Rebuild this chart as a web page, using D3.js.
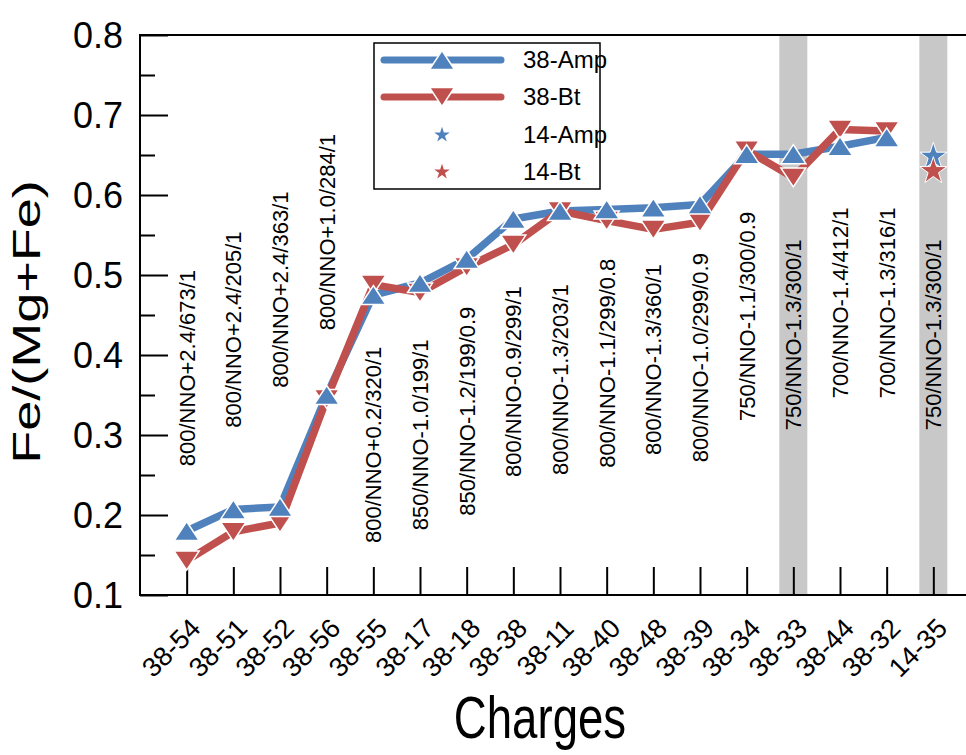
<!DOCTYPE html>
<html><head><meta charset="utf-8">
<script src="https://cdn.jsdelivr.net/npm/d3@7/dist/d3.min.js"></script>
<style>
html,body{margin:0;padding:0;background:#fff;}
svg{display:block;font-family:"Liberation Sans",Arial,Helvetica,sans-serif;}
</style></head>
<body>
<svg id="chart" width="966" height="755"></svg>
<script>
// ---------- data ----------
const categories = ["38-54","38-51","38-52","38-56","38-55","38-17","38-18","38-38","38-11","38-40","38-48","38-39","38-34","38-33","38-44","38-32","14-35"];
const conditions = ["800/NNO+2.4/673/1","800/NNO+2.4/205/1","800/NNO+2.4/363/1","800/NNO+1.0/284/1","800/NNO+0.2/320/1","850/NNO-1.0/199/1","850/NNO-1.2/199/0.9","800/NNO-0.9/299/1","800/NNO-1.3/203/1","800/NNO-1.1/299/0.8","800/NNO-1.3/360/1","800/NNO-1.0/299/0.9","750/NNO-1.1/300/0.9","750/NNO-1.3/300/1","700/NNO-1.4/412/1","700/NNO-1.3/316/1","750/NNO-1.3/300/1"];
// value (in Fe/(Mg+Fe) units) at which each condition label begins
const conditionAnchor = [0.261,0.309,0.359,0.431,0.165,0.181,0.199,0.2475,0.25,0.259,0.275,0.266,0.3175,0.306,0.346,0.346,0.306];
const amp38 = [0.180,0.207,0.210,0.350,0.475,0.490,0.520,0.570,0.580,0.582,0.584,0.588,0.651,0.651,0.661,0.672,null];
const bt38  = [0.143,0.179,0.190,0.345,0.488,0.478,0.510,0.538,0.580,0.568,0.557,0.566,0.656,0.622,0.682,0.680,null];
const amp14 = [{cat:"14-35", v:0.648}];
const bt14  = [{cat:"14-35", v:0.630}];
const highlighted = ["38-33","14-35"];
const yTicks = [0.1,0.2,0.3,0.4,0.5,0.6,0.7,0.8];
const yMinorTicks = [0.15,0.25,0.35,0.45,0.55,0.65,0.75];
const seriesNames = ["38-Amp","38-Bt","14-Amp","14-Bt"];

// ---------- layout ----------
const BLUE = "#4F81BD", RED = "#C0504D", GREY = "#C8C8C8";
const svg = d3.select("#chart");
const L = 140, T = 35, B = 595, R = 980;
const x = d3.scaleLinear().domain([-1, categories.length]).range([L, R]);
const y = d3.scaleLinear().domain([0.1, 0.8]).range([B, T]);
const step = x(1) - x(0);
const xi = c => x(categories.indexOf(c));

// highlight bands
svg.append("g").selectAll("rect").data(highlighted).join("rect")
  .attr("x", d => xi(d) - step*0.3).attr("width", step*0.6)
  .attr("y", T).attr("height", B - T).attr("fill", GREY);

// condition labels (vertical)
svg.append("g").selectAll("text").data(conditions).join("text")
  .attr("transform", (d,i) => `translate(${x(i)+8},${y(conditionAnchor[i])}) rotate(-90)`)
  .attr("font-size", 22).attr("fill", "#000").text(d => d);

// frame
svg.append("rect").attr("x", L).attr("y", T).attr("width", R - L).attr("height", B - T)
  .attr("fill", "none").attr("stroke", "#000").attr("stroke-width", 2);

// y axis
const yAxis = d3.axisLeft(y).tickValues(yTicks).tickFormat(d3.format(".1f")).tickSize(-28).tickPadding(17);
const gy = svg.append("g").attr("transform", `translate(${L},0)`).call(yAxis);
gy.select(".domain").remove();
gy.selectAll(".tick line").attr("stroke", "#000").attr("stroke-width", 2);
gy.selectAll(".tick text").attr("font-size", 36).attr("fill", "#000").attr("font-family", "inherit")
  .attr("dy", "0.36em");
const gym = svg.append("g").attr("transform", `translate(${L},0)`)
  .call(d3.axisLeft(y).tickValues(yMinorTicks).tickSize(-15).tickFormat(""));
gym.select(".domain").remove();
gym.selectAll(".tick line").attr("stroke", "#000").attr("stroke-width", 2);

// x axis
const xAxis = d3.axisBottom(x).tickValues(d3.range(categories.length)).tickFormat(i => categories[i]).tickSize(-28);
const gx = svg.append("g").attr("transform", `translate(0,${B})`).call(xAxis);
gx.select(".domain").remove();
gx.selectAll(".tick line").attr("stroke", "#000").attr("stroke-width", 2);
gx.selectAll(".tick text").attr("font-size", 27).attr("fill", "#000").attr("font-family", "inherit")
  .attr("text-anchor", "end").attr("y", 0).attr("dy", 0)
  .attr("transform", "translate(15,35) rotate(-45)");

// lines
function lineOf(vals){ return d3.line().defined(d => d.v != null).x(d => x(d.i)).y(d => y(d.v))(vals.map((v,i)=>({i,v}))); }
svg.append("path").attr("d", lineOf(amp38)).attr("fill","none").attr("stroke",BLUE).attr("stroke-width",7.5).attr("stroke-linejoin","round").attr("stroke-linecap","round");
svg.append("path").attr("d", lineOf(bt38)).attr("fill","none").attr("stroke",RED).attr("stroke-width",7.5).attr("stroke-linejoin","round").attr("stroke-linecap","round");

const hw = 12.5, hh = 9.5;
const triUp = `M0,${-hh}L${hw},${hh}L${-hw},${hh}Z`;
const triDown = `M0,${hh}L${hw},${-hh}L${-hw},${-hh}Z`;
function markers(vals, path, color){
  svg.append("g").selectAll("path").data(vals.map((v,i)=>({i,v})).filter(d=>d.v!=null)).join("path")
    .attr("d", path).attr("transform", d => `translate(${x(d.i)},${y(d.v)})`)
    .attr("fill", color).attr("stroke", "#fff").attr("stroke-width", 1.5);
}
markers(bt38, triDown, RED);
markers(amp38, triUp, BLUE);

const bigStar = d3.symbol().type(d3.symbolStar).size(230)();
const smallStar = d3.symbol().type(d3.symbolStar).size(75)();
svg.append("g").selectAll("path").data(amp14).join("path").attr("d", bigStar)
  .attr("transform", d => `translate(${xi(d.cat)},${y(d.v)})`).attr("fill", BLUE).attr("stroke","#fff").attr("stroke-width",1);
svg.append("g").selectAll("path").data(bt14).join("path").attr("d", bigStar)
  .attr("transform", d => `translate(${xi(d.cat)},${y(d.v)})`).attr("fill", RED).attr("stroke","#fff").attr("stroke-width",1);

// legend
const lg = svg.append("g").attr("transform", "translate(374,43)");
lg.append("rect").attr("width", 226).attr("height", 146).attr("fill", "#fff").attr("stroke", "#000").attr("stroke-width", 1.5);
const rowY = [17, 54, 92, 129];
seriesNames.forEach((name, k) => {
  const g = lg.append("g").attr("transform", `translate(0,${rowY[k]})`);
  if (k < 2) {
    g.append("line").attr("x1", 10).attr("x2", 127).attr("stroke", k ? RED : BLUE).attr("stroke-width", 7).attr("stroke-linecap", "round");
    g.append("path").attr("d", k ? triDown : triUp).attr("transform", "translate(68,0)").attr("fill", k ? RED : BLUE).attr("stroke","#fff").attr("stroke-width",1.5);
  } else {
    g.append("path").attr("d", smallStar).attr("transform", "translate(68,0)").attr("fill", k===2 ? BLUE : RED);
  }
  g.append("text").attr("x", 149).attr("dy", "0.35em").attr("font-size", 24).attr("fill", "#000").text(name);
});

// axis titles
svg.append("text").attr("transform", "translate(40,322) rotate(-90) scale(1,0.73)")
  .attr("text-anchor", "middle").attr("font-size", 54).attr("fill", "#000").text("Fe/(Mg+Fe)");
svg.append("text").attr("transform", "translate(540,738) scale(0.76,1)")
  .attr("text-anchor", "middle").attr("font-size", 60).attr("fill", "#000").text("Charges");
</script>
</body></html>
